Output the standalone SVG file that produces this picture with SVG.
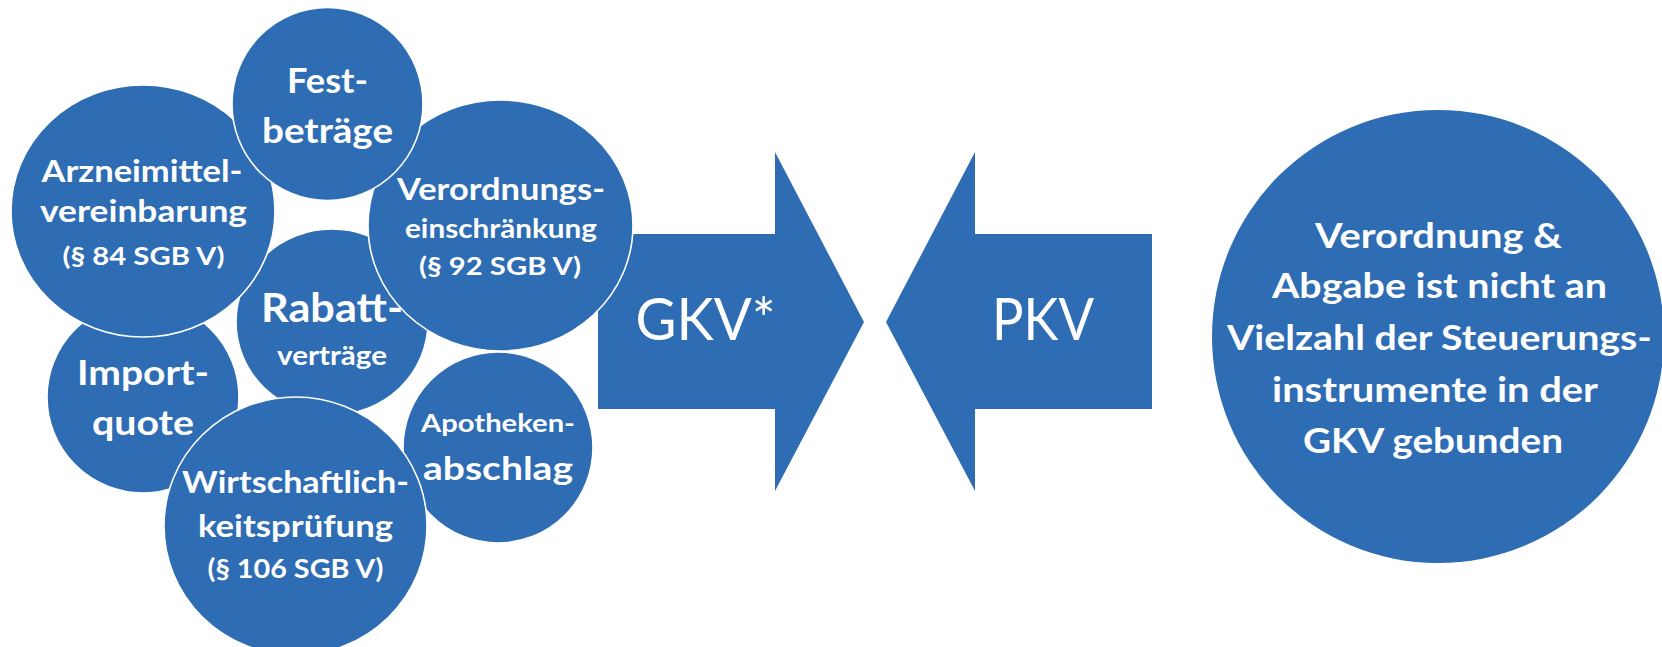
<svg xmlns="http://www.w3.org/2000/svg" width="1662" height="647" viewBox="0 0 1662 647">
<style>
.c{fill:#2e6cb3;stroke:#ffffff;stroke-width:1.6}
.a{fill:#2e6cb3}
.t{font-family:Lato,"Open Sans","Liberation Sans",sans-serif;font-weight:bold;fill:#ffffff;text-anchor:middle}
.r{font-family:Lato,"Open Sans","Liberation Sans",sans-serif;font-weight:normal;fill:#ffffff;text-anchor:middle}
</style>
<rect width="1662" height="647" fill="#ffffff"/>
<g id="connectors">
<g id="gkv">
<polygon class="a" points="598,234 775,234 775,152 864,322 775,491 775,409 598,409"/>
<text class="r" x="705.5" y="340" font-size="58" textLength="140" lengthAdjust="spacingAndGlyphs">GKV*</text>
</g>
<g id="pkv">
<polygon class="a" points="1152,234 975,234 975,152 886,322 975,491 975,409 1152,409"/>
<text class="r" x="1043" y="340" font-size="58" textLength="102" lengthAdjust="spacingAndGlyphs">PKV</text>
</g>
</g>
<g id="import">
<ellipse class="c" cx="143" cy="397" rx="96" ry="96"/>
<text class="t" x="143" y="385" font-size="35" textLength="132" lengthAdjust="spacingAndGlyphs">Import-</text>
<text class="t" x="143" y="435" font-size="35" textLength="102" lengthAdjust="spacingAndGlyphs">quote</text>
</g>
<g id="rabatt">
<ellipse class="c" cx="332" cy="322" rx="96" ry="93"/>
<text class="t" x="332" y="322" font-size="40" textLength="142" lengthAdjust="spacingAndGlyphs">Rabatt-</text>
<text class="t" x="332" y="365" font-size="27" textLength="110" lengthAdjust="spacingAndGlyphs">verträge</text>
</g>
<g id="arzneimittel">
<ellipse class="c" cx="143" cy="211" rx="132" ry="126"/>
<text class="t" x="142" y="182" font-size="31" textLength="201" lengthAdjust="spacingAndGlyphs">Arzneimittel-</text>
<text class="t" x="143.5" y="222" font-size="31" textLength="207" lengthAdjust="spacingAndGlyphs">vereinbarung</text>
<text class="t" x="143.5" y="265" font-size="25" textLength="162" lengthAdjust="spacingAndGlyphs">(§ 84 SGB V)</text>
</g>
<g id="verordnung">
<ellipse class="c" cx="500.5" cy="225.5" rx="132.5" ry="125.5"/>
<text class="t" x="501" y="200" font-size="31" textLength="208" lengthAdjust="spacingAndGlyphs">Verordnungs-</text>
<text class="t" x="501" y="238" font-size="27" textLength="192" lengthAdjust="spacingAndGlyphs">einschränkung</text>
<text class="t" x="500" y="275" font-size="25" textLength="162" lengthAdjust="spacingAndGlyphs">(§ 92 SGB V)</text>
</g>
<g id="festbetraege">
<ellipse class="c" cx="327.5" cy="104" rx="95.5" ry="96.5"/>
<text class="t" x="327.5" y="93" font-size="35" textLength="81" lengthAdjust="spacingAndGlyphs">Fest-</text>
<text class="t" x="327.5" y="143" font-size="35" textLength="131" lengthAdjust="spacingAndGlyphs">beträge</text>
</g>
<g id="apotheken">
<ellipse class="c" cx="498" cy="447.5" rx="95" ry="95.5"/>
<text class="t" x="498" y="432" font-size="24" textLength="154" lengthAdjust="spacingAndGlyphs">Apotheken-</text>
<text class="t" x="498" y="480" font-size="32" textLength="150" lengthAdjust="spacingAndGlyphs">abschlag</text>
</g>
<g id="wirtschaftlichkeit">
<ellipse class="c" cx="295.5" cy="526" rx="131.5" ry="129"/>
<text class="t" x="295.5" y="493" font-size="30" textLength="227" lengthAdjust="spacingAndGlyphs">Wirtschaftlich-</text>
<text class="t" x="295.5" y="537" font-size="30" textLength="195" lengthAdjust="spacingAndGlyphs">keitsprüfung</text>
<text class="t" x="295.5" y="578" font-size="26" textLength="176" lengthAdjust="spacingAndGlyphs">(§ 106 SGB V)</text>
</g>
<g id="pkv-info">
<ellipse class="a" cx="1438" cy="336.5" rx="226" ry="226.5"/>
<text class="t" x="1438.5" y="248" font-size="35" textLength="247" lengthAdjust="spacingAndGlyphs">Verordnung &amp;</text>
<text class="t" x="1439.5" y="298" font-size="35" textLength="335" lengthAdjust="spacingAndGlyphs">Abgabe ist nicht an</text>
<text class="t" x="1439.5" y="350" font-size="35" textLength="425" lengthAdjust="spacingAndGlyphs">Vielzahl der Steuerungs-</text>
<text class="t" x="1435" y="402" font-size="35" textLength="326" lengthAdjust="spacingAndGlyphs">instrumente in der</text>
<text class="t" x="1433" y="453" font-size="35" textLength="260" lengthAdjust="spacingAndGlyphs">GKV gebunden</text>
</g>
</svg>
